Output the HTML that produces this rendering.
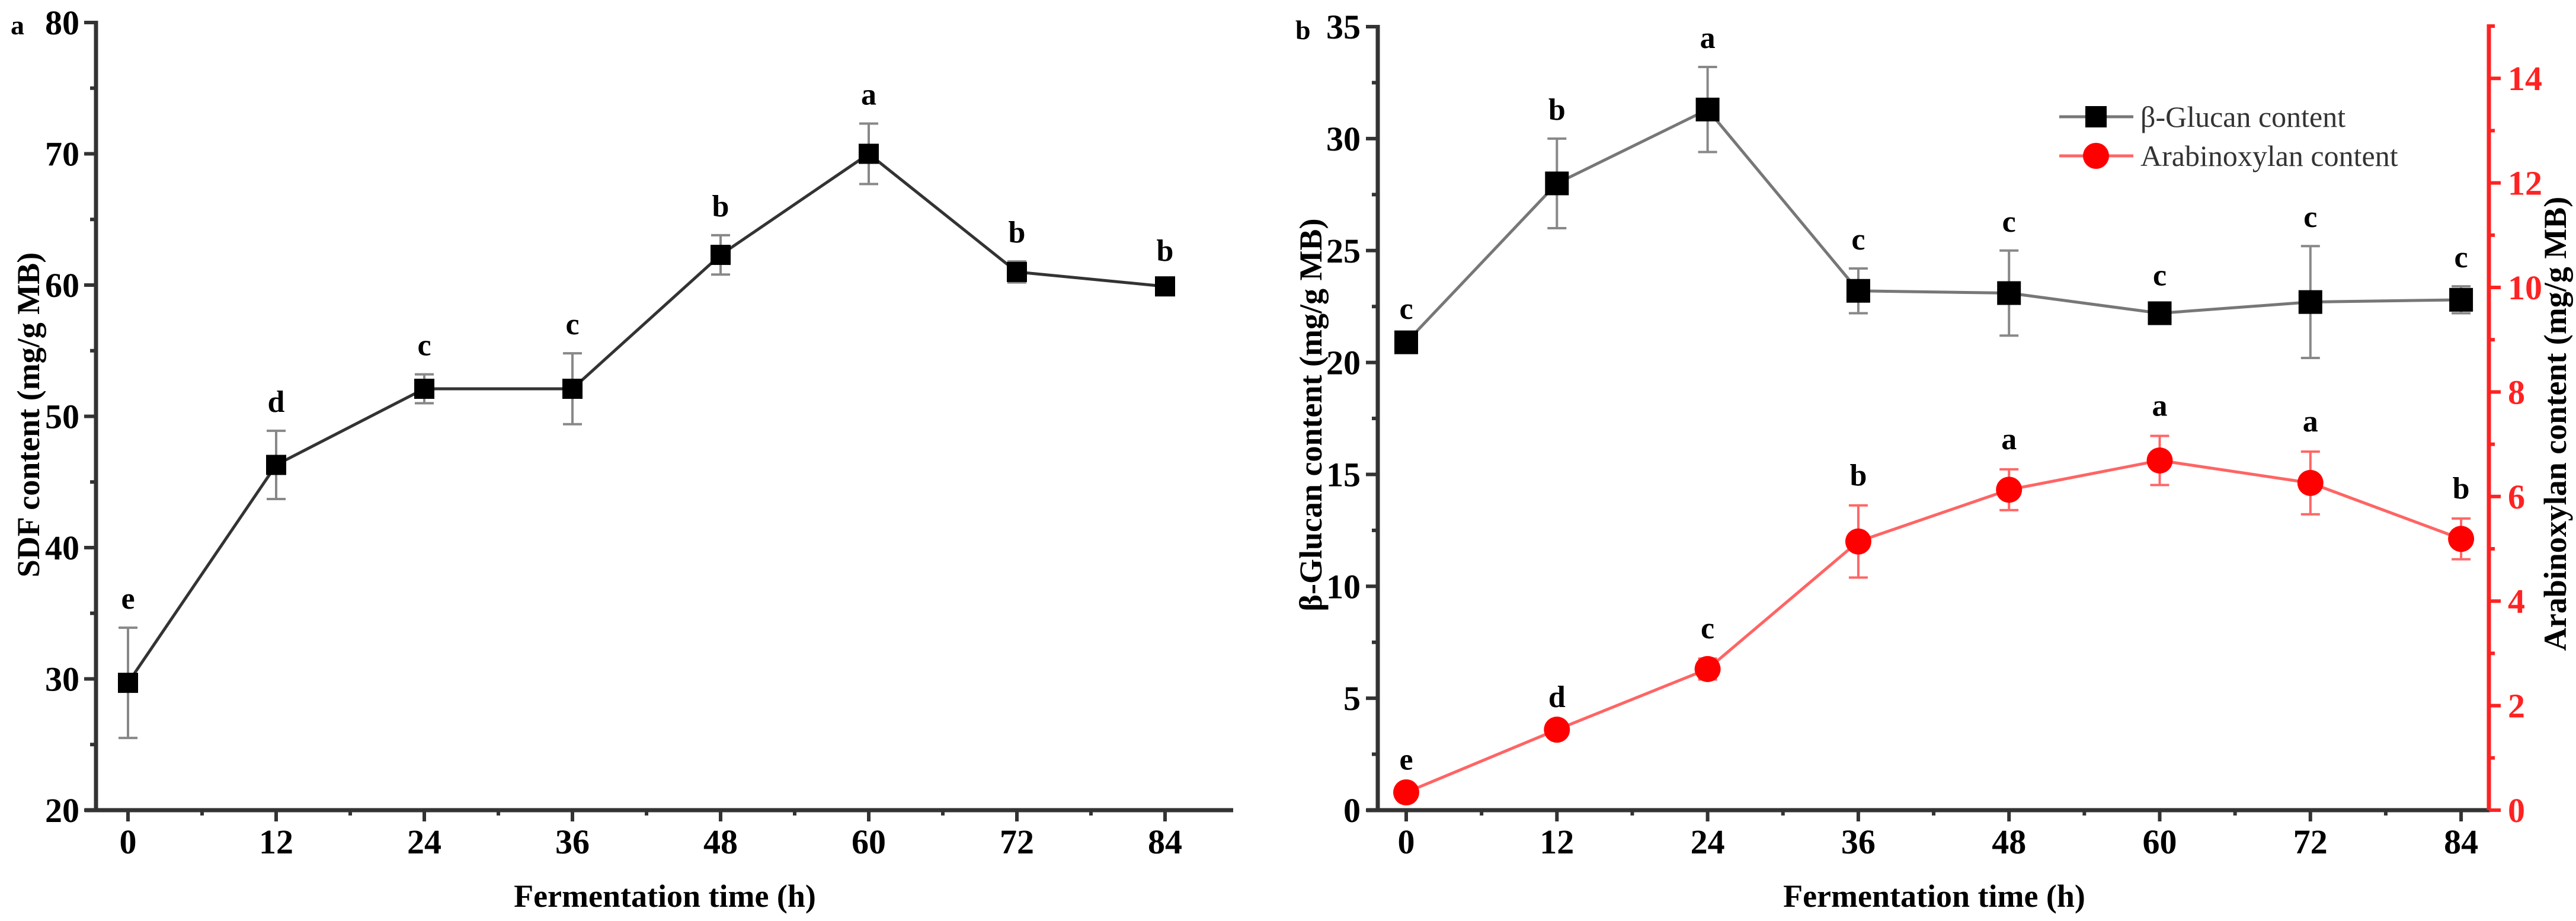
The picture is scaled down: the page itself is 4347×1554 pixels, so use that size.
<!DOCTYPE html>
<html><head><meta charset="utf-8"><style>
html,body{margin:0;padding:0;background:#fff}
svg{display:block;font-family:"Liberation Serif",serif}
</style></head><body>
<svg id="c" width="4347" height="1554" viewBox="0 0 4347 1554" xmlns="http://www.w3.org/2000/svg"></svg>
<script>
const hours=[0,12,24,36,48,60,72,84];
const sdfValues=[29.7,46.3,52.1,52.1,62.3,70.0,61.0,59.9];
const sdfErrors=[4.2,2.6,1.1,2.7,1.5,2.3,0.8,0.5];
const sdfLetters=["e","d","c","c","b","a","b","b"];
const glucanValues=[20.9,28.0,31.3,23.2,23.1,22.2,22.7,22.8];
const glucanErrors=[0.2,2.0,1.9,1.0,1.9,0.4,2.5,0.6];
const glucanLetters=["c","b","a","c","c","c","c","c"];
const axValues=[0.34,1.54,2.70,5.14,6.13,6.69,6.26,5.19];
const axErrors=[0.05,0.05,0.2,0.69,0.39,0.47,0.6,0.39];
const axLetters=["e","d","c","b","a","a","a","b"];
const sdfTicks=[20,30,40,50,60,70,80];
const glucanTicks=[0,5,10,15,20,25,30,35];
const axTicks=[0,2,4,6,8,10,12,14];

const svg=document.getElementById('c');
const NS="http://www.w3.org/2000/svg";
function mk(tag,attrs,parent){const e=document.createElementNS(NS,tag);for(const k in attrs)e.setAttribute(k,attrs[k]);(parent||svg).appendChild(e);return e;}
function txt(s,attrs,parent){const e=mk('text',attrs,parent);e.textContent=s;return e;}

// ---------- Panel A ----------
const A={x0:216,dx:250/12,y0:1367,ymin:20,ky:22.15};
const ax=h=>A.x0+h*A.dx, ay=v=>A.y0-(v-A.ymin)*A.ky;
const gA=mk('g',{});


txt('a',{x:18,y:58,'font-size':46,'font-weight':'bold'},gA);
mk('line',{x1:162,y1:ay(80)-3,x2:162,y2:1370,stroke:'#333','stroke-width':7},gA);
mk('line',{x1:143,y1:1367,x2:2081,y2:1367,stroke:'#333','stroke-width':7},gA);
for(let v=20;v<=80;v+=5){const major=sdfTicks.includes(v);mk('line',{x1:major?142:152,y1:ay(v),x2:162,y2:ay(v),stroke:'#333','stroke-width':6},gA);}
sdfTicks.forEach(v=>{const t=txt(String(v),{x:134,y:ay(v)+20,'font-size':58,'font-weight':'bold','text-anchor':'end'},gA);});
for(let h=0;h<=90;h+=6){if(A.x0+h*A.dx>2075)break;const major=h%12===0;mk('line',{x1:ax(h),y1:1367,x2:ax(h),y2:major?1386:1376,stroke:'#333','stroke-width':6},gA);}
hours.forEach(h=>{const t=txt(String(h),{x:ax(h),y:1440,'font-size':58,'font-weight':'bold','text-anchor':'middle'},gA);});
const tA=txt('SDF content (mg/g MB)',{x:0,y:0,'font-size':54,'font-weight':'bold','text-anchor':'middle',transform:'translate(66,700) rotate(-90)'},gA);

const txA=txt('Fermentation time (h)',{x:1122,y:1530,'font-size':54,'font-weight':'bold','text-anchor':'middle'},gA);

hours.forEach((h,i)=>{const x=ax(h),t=ay(sdfValues[i]+sdfErrors[i]),b=ay(sdfValues[i]-sdfErrors[i]);
 const g=mk('g',{stroke:'#888','stroke-width':4},gA);
 mk('line',{x1:x,y1:t,x2:x,y2:b},g);mk('line',{x1:x-16,y1:t,x2:x+16,y2:t},g);mk('line',{x1:x-16,y1:b,x2:x+16,y2:b},g);});
const lA=mk('polyline',{points:hours.map((h,i)=>ax(h)+','+ay(sdfValues[i])).join(' '),fill:'none',stroke:'#333','stroke-width':5},gA);

hours.forEach((h,i)=>{const r=mk('rect',{x:ax(h)-17,y:ay(sdfValues[i])-17,width:34,height:34,fill:'#000'},gA);
 const l=txt(sdfLetters[i],{x:ax(h),y:ay(sdfValues[i]+sdfErrors[i])-32,'font-size':52,'font-weight':'bold','text-anchor':'middle'},gA);});

// ---------- Panel B ----------
const B={x0:2373,dx:254.3/12,y0:1367,kl:37.77,kr:88.2};
const bx=h=>B.x0+h*B.dx, byl=v=>B.y0-v*B.kl, byr=v=>B.y0-v*B.kr;
const gB=mk('g',{});


txt('b',{x:2186,y:66,'font-size':46,'font-weight':'bold'},gB);
mk('line',{x1:2325,y1:byl(35)-3,x2:2325,y2:1370,stroke:'#333','stroke-width':7},gB);
mk('line',{x1:2306,y1:1367,x2:4202,y2:1367,stroke:'#333','stroke-width':7},gB);
mk('line',{x1:4200,y1:byr(15)-3,x2:4200,y2:1367,stroke:'#f22','stroke-width':7},gB);
for(let v=0;v<=35;v+=2.5){const major=v%5===0;mk('line',{x1:major?2305:2315,y1:byl(v),x2:2325,y2:byl(v),stroke:'#333','stroke-width':6},gB);}
glucanTicks.forEach(v=>{const t=txt(String(v),{x:2296,y:byl(v)+20,'font-size':58,'font-weight':'bold','text-anchor':'end'},gB);});
for(let v=0;v<=15;v+=1){const major=v%2===0;mk('line',{x1:4200,y1:byr(v),x2:major?4220:4210,y2:byr(v),stroke:'#f22','stroke-width':6},gB);}
axTicks.forEach(v=>{const t=txt(String(v),{x:4232,y:byr(v)+20,'font-size':58,'font-weight':'bold',fill:'#f22'},gB);});
for(let h=0;h<=90;h+=6){if(bx(h)>4195)break;const major=h%12===0;mk('line',{x1:bx(h),y1:1367,x2:bx(h),y2:major?1386:1376,stroke:'#333','stroke-width':6},gB);}
hours.forEach(h=>{const t=txt(String(h),{x:bx(h),y:1440,'font-size':58,'font-weight':'bold','text-anchor':'middle'},gB);});
const tB=txt('β-Glucan content (mg/g MB)',{x:0,y:0,'font-size':54,'font-weight':'bold','text-anchor':'middle',transform:'translate(2230,700) rotate(-90)'},gB);

const tB2=txt('Arabinoxylan content (mg/g MB)',{x:0,y:0,'font-size':54,'font-weight':'bold','text-anchor':'middle',transform:'translate(4330,715) rotate(-90)'},gB);

const txB=txt('Fermentation time (h)',{x:3264,y:1530,'font-size':54,'font-weight':'bold','text-anchor':'middle'},gB);

function errs(vals,errsArr,yf,color,name){hours.forEach((h,i)=>{const x=bx(h),t=yf(vals[i]+errsArr[i]),b=yf(vals[i]-errsArr[i]);
 const g=mk('g',{stroke:color,'stroke-width':4},gB);
 mk('line',{x1:x,y1:t,x2:x,y2:b},g);mk('line',{x1:x-16,y1:t,x2:x+16,y2:t},g);mk('line',{x1:x-16,y1:b,x2:x+16,y2:b},g);});}
errs(glucanValues,glucanErrors,byl,'#888','glucan-error-bar');
errs(axValues,axErrors,byr,'#f66','arabinoxylan-error-bar');
const lG=mk('polyline',{points:hours.map((h,i)=>bx(h)+','+byl(glucanValues[i])).join(' '),fill:'none',stroke:'#777','stroke-width':5},gB);

const lX=mk('polyline',{points:hours.map((h,i)=>bx(h)+','+byr(axValues[i])).join(' '),fill:'none',stroke:'#ff6464','stroke-width':5},gB);

hours.forEach((h,i)=>{const r=mk('rect',{x:bx(h)-20,y:byl(glucanValues[i])-20,width:40,height:40,fill:'#000'},gB);
 const l=txt(glucanLetters[i],{x:bx(h),y:byl(glucanValues[i]+glucanErrors[i])-32,'font-size':52,'font-weight':'bold','text-anchor':'middle'},gB);
 const c=mk('circle',{cx:bx(h),cy:byr(axValues[i]),r:22,fill:'#f00'},gB);
 const l2=txt(axLetters[i],{x:bx(h),y:byr(axValues[i]+axErrors[i])-34,'font-size':52,'font-weight':'bold','text-anchor':'middle'},gB);});
const lg=mk('g',{},gB);
const e1=mk('g',{},lg);
mk('line',{x1:3475,y1:197,x2:3600,y2:197,stroke:'#777','stroke-width':5},e1);
mk('rect',{x:3519,y:179,width:36,height:36,fill:'#000'},e1);
txt('β-Glucan content',{x:3612,y:214,'font-size':50,fill:'#333'},e1);
const e2=mk('g',{},lg);
mk('line',{x1:3475,y1:263,x2:3600,y2:263,stroke:'#ff6464','stroke-width':5},e2);
mk('circle',{cx:3537,cy:263,r:22,fill:'#f00'},e2);
txt('Arabinoxylan content',{x:3612,y:280,'font-size':50,fill:'#333'},e2);
</script>
</body></html>
